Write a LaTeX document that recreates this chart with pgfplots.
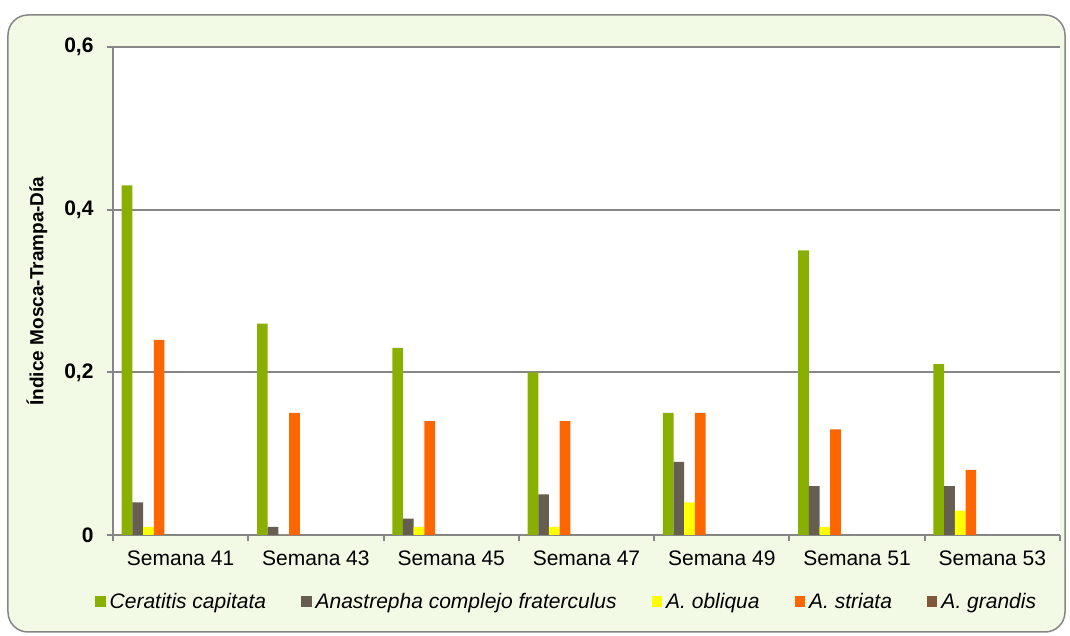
\documentclass[border=0pt]{standalone}
\usepackage{fontspec}
\setmainfont{Liberation Sans}
\usepackage{pgfplots}
\pgfplotsset{compat=1.18}

\definecolor{cgreen}{RGB}{137,176,0}
\definecolor{cgray}{RGB}{102,94,80}
\definecolor{cyellow}{RGB}{255,255,0}
\definecolor{corange}{RGB}{255,102,0}
\definecolor{cbrown}{RGB}{128,88,56}
\definecolor{bgcol}{RGB}{242,249,229}
\definecolor{axgray}{RGB}{134,134,134}

\pgfplotsset{
  sqleg/.style={legend image code/.code={\fill[##1] (0pt,-5pt) rectangle (10.5pt,5.5pt);}},
}

\begin{document}
\begin{tikzpicture}
% fondo redondeado y area de trazado blanca
\fill[bgcol, draw=axgray, line width=1.5pt, rounded corners=20pt] (-105pt,-97pt) rectangle (952pt,520pt);
\fill[white] (0pt,0pt) rectangle (947pt,488pt);
\begin{axis}[
  at={(0pt,0pt)}, anchor=south west,
  scale only axis, width=947pt, height=488pt,
  xmin=0, xmax=7, ymin=0, ymax=0.6,
  axis lines=left,
  axis line style={draw=axgray, line width=2pt, -},
  tick align=outside,
  major tick length=6pt, minor tick length=6pt,
  tick style={draw=axgray, line width=2pt},
  xtick={0.5,1.5,...,6.5},
  xticklabels={Semana 41,Semana 43,Semana 45,Semana 47,Semana 49,Semana 51,Semana 53},
  major x tick style={draw=none},
  minor xtick={0,1,...,7},
  xticklabel style={font=\fontsize{21}{24}\selectfont, yshift=-6pt},
  ytick={0,0.2,0.4,0.6},
  yticklabels={0,{0,2},{0,4},{0,6}},
  yticklabel style={font=\fontsize{21}{24}\selectfont\bfseries, xshift=-10pt},
  ymajorgrids,
  major grid style={draw=axgray, line width=2pt},
  ylabel={Índice Mosca-Trampa-Día},
  every axis y label/.style={at={(rel axis cs:0,0.5)}, rotate=90, anchor=center, yshift=76pt,
    font=\fontsize{19}{22}\selectfont\bfseries},
  legend columns=5,
  legend style={at={(0.479,-0.1373)}, anchor=center, draw=none, fill=none,
    font=\fontsize{21}{24}\selectfont\itshape,
    /tikz/every odd column/.append style={column sep=2pt},
    /tikz/every even column/.append style={column sep=33pt}},
]
\addplot[ybar, bar width=0.079, bar shift=-0.396, fill=cgreen, draw=none, sqleg]
  coordinates {(0.5,0.43) (1.5,0.26) (2.5,0.23) (3.5,0.20) (4.5,0.15) (5.5,0.35) (6.5,0.21)};
\addplot[ybar, bar width=0.079, bar shift=-0.317, fill=cgray, draw=none, sqleg]
  coordinates {(0.5,0.04) (1.5,0.01) (2.5,0.02) (3.5,0.05) (4.5,0.09) (5.5,0.06) (6.5,0.06)};
\addplot[ybar, bar width=0.079, bar shift=-0.238, fill=cyellow, draw=none, sqleg]
  coordinates {(0.5,0.01) (1.5,0) (2.5,0.01) (3.5,0.01) (4.5,0.04) (5.5,0.01) (6.5,0.03)};
\addplot[ybar, bar width=0.079, bar shift=-0.159, fill=corange, draw=none, sqleg]
  coordinates {(0.5,0.24) (1.5,0.15) (2.5,0.14) (3.5,0.14) (4.5,0.15) (5.5,0.13) (6.5,0.08)};
\addplot[ybar, bar width=0.079, bar shift=-0.080, fill=cbrown, draw=none, sqleg]
  coordinates {(0.5,0) (1.5,0) (2.5,0) (3.5,0) (4.5,0) (5.5,0) (6.5,0)};
\legend{Ceratitis capitata,Anastrepha complejo fraterculus,A. obliqua,A. striata,A. grandis}
\end{axis}
\pgfresetboundingbox
\path[use as bounding box] (-113pt,-101pt) rectangle (957pt,535pt);
\end{tikzpicture}
\end{document}
